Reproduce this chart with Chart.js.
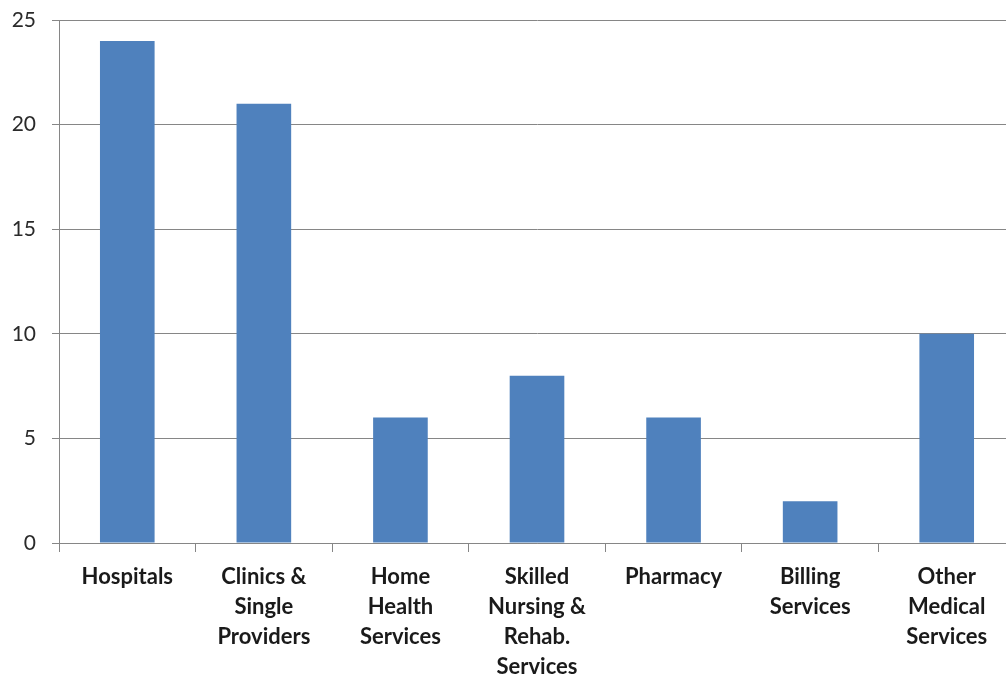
<!DOCTYPE html>
<html>
<head>
<meta charset="utf-8">
<script src="https://cdn.jsdelivr.net/npm/chart.js@4"></script>
<style>
  html, body { margin: 0; padding: 0; background: #fff; overflow: hidden; }
  #wrap { width: 1015px; height: 679px; }
</style>
</head>
<body>
<div id="wrap"><canvas id="chart"></canvas></div>
<script>
// categories and values
var categories = [
    'Hospitals',
    ['Clinics &', 'Single', 'Providers'],
    ['Home', 'Health', 'Services'],
    ['Skilled', 'Nursing &', 'Rehab.', 'Services'],
    'Pharmacy',
    ['Billing', 'Services'],
    ['Other', 'Medical', 'Services']
];
var counts = [24, 21, 6, 8, 6, 2, 10];
var yTicks = [0, 5, 10, 15, 20, 25];

var gridColor = '#868686';
var area = document.getElementById('chart');

new Chart(area, {
    type: 'bar',
    data: {
        labels: categories,
        datasets: [{
            label: 'count',
            data: counts,
            backgroundColor: '#4f81bd',
            borderWidth: 0,
            barPercentage: 0.4,
            categoryPercentage: 1
        }]
    },
    options: {
        responsive: true,
        maintainAspectRatio: false,
        animation: false,
        layout: { padding: { top: 20, right: 0, bottom: 0, left: 0 } },
        plugins: {
            legend: { display: false },
            tooltip: { enabled: false }
        },
        scales: {
            x: {
                grid: {
                    offset: true,
                    drawOnChartArea: false,
                    drawTicks: true,
                    tickLength: 9,
                    color: gridColor
                },
                border: { color: gridColor, width: 1 },
                ticks: {
                    color: '#1a1a1a',
                    font: { family: 'Lato', size: 22, weight: 'bold', lineHeight: 1.364 },
                    padding: 10,
                    maxRotation: 0,
                    autoSkip: false
                },
                afterFit: function (scale) {
                    scale.height = 136;
                    scale.paddingLeft = 0;
                    scale.paddingRight = 0;
                }
            },
            y: {
                min: 0,
                max: 25,
                afterBuildTicks: function (scale) {
                    scale.ticks = yTicks.map(function (v) { return { value: v }; });
                },
                grid: {
                    color: gridColor,
                    tickLength: 7,
                    drawTicks: true
                },
                border: { color: gridColor, width: 1 },
                ticks: {
                    color: '#2a2a2a',
                    font: { family: 'Lato', size: 21 },
                    padding: 16
                },
                afterFit: function (scale) {
                    scale.width = 59;
                    scale.paddingTop = 0;
                    scale.paddingBottom = 0;
                }
            }
        }
    }
});
</script>
</body>
</html>
